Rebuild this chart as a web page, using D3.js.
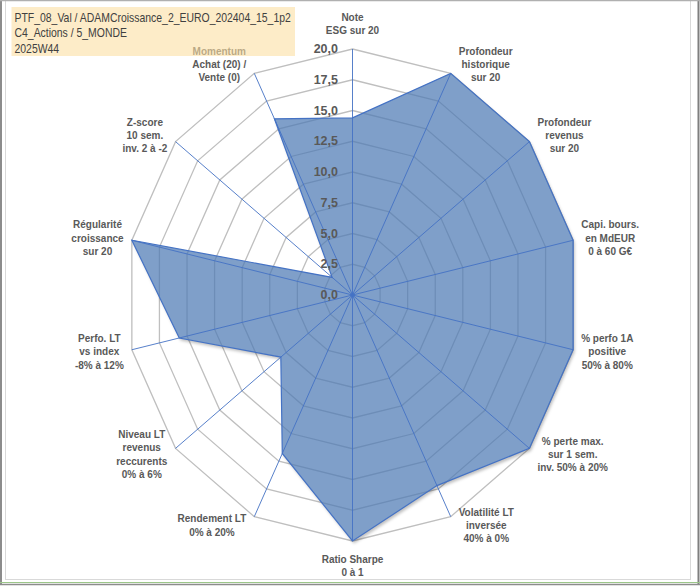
<!DOCTYPE html>
<html>
<head>
<meta charset="utf-8">
<script src="https://cdn.jsdelivr.net/npm/d3@7"></script>
<style>
  body { margin: 0; background: #fff; }
  svg { display: block; font-family: "Liberation Sans", Arial, sans-serif; }
</style>
</head>
<body>
<div id="chart"></div>
<script>
// Chart data
const categories = [
    ["Note", "ESG sur 20"],
    ["Profondeur", "historique", "sur 20"],
    ["Profondeur", "revenus", "sur 20"],
    ["Capi. bours.", "en MdEUR", "0 à 60 G€"],
    ["% perfo 1A", "positive", "50% à 80%"],
    ["% perte max.", "sur 1 sem.", "inv. 50% à 20%"],
    ["Volatilité LT", "inversée", "40% à 0%"],
    ["Ratio Sharpe", "0 à 1"],
    ["Rendement LT", "0% à 20%"],
    ["Niveau LT", "revenus", "reccurents", "0% à 6%"],
    ["Perfo. LT", "vs index", "-8% à 12%"],
    ["Régularité", "croissance", "sur 20"],
    ["Z-score", "10 sem.", "inv. 2 à -2"],
    ["Momentum", "Achat (20) /", "Vente (0)"]
];
const values = [14.4, 20, 20, 20, 20, 20, 17.2, 20, 14.3, 8.1, 15.7, 20, 2.3, 15.9];
const tickValues = [0, 2.5, 5, 7.5, 10, 12.5, 15, 17.5, 20];
const titleLines = [
    "PTF_08_Val / ADAMCroissance_2_EURO_202404_15_1p2",
    "C4_Actions / 5_MONDE",
    "2025W44"
];

const width = 700, height = 586;
const cx = 352.5, cy = 295;
const xSquash = 0.92;   // the plot is a bit narrower than tall
const n = categories.length;

const rScale = d3.scaleLinear().domain([0, 20]).range([0, 246]);
const angle = d3.scaleLinear().domain([0, n]).range([0, 2 * Math.PI]);

function pt(i, v) {
    const a = angle(i), r = rScale(v);
    return [cx + Math.sin(a) * r * xSquash, cy - Math.cos(a) * r];
}

const svg = d3.select('#chart').append('svg')
    .attr('width', width)
    .attr('height', height);

const line = d3.line().curve(d3.curveLinearClosed);
const areaPath = line(values.map((v, i) => pt(i, v)));

// shadow only outside the area, so the fill stays light
const defs = svg.append('defs');
defs.append('filter').attr('id', 'blur')
    .attr('x', '-10%').attr('y', '-10%').attr('width', '120%').attr('height', '120%')
    .append('feGaussianBlur').attr('stdDeviation', 1.8);
const mask = defs.append('mask').attr('id', 'outside');
mask.append('rect').attr('width', width).attr('height', height).attr('fill', '#fff');
mask.append('path').attr('d', areaPath).attr('fill', '#000');

// frame
svg.append('rect')
    .attr('x', 5.5).attr('y', -1).attr('width', 685).attr('height', 580.5)
    .attr('fill', 'none').attr('stroke', '#d9d9d9');
svg.append('line').attr('x1', 1).attr('x2', 1).attr('y1', 0).attr('y2', 585)
    .attr('stroke', '#8c8c8c').attr('stroke-width', 2);
svg.append('line').attr('x1', 698.5).attr('x2', 698.5).attr('y1', 0).attr('y2', 585)
    .attr('stroke', '#7f7f7f').attr('stroke-width', 2);
svg.append('line').attr('x1', 0).attr('x2', 700).attr('y1', 0.5).attr('y2', 0.5)
    .attr('stroke', '#b0b0b0').attr('stroke-width', 1.5);
svg.append('line').attr('x1', 0).attr('x2', 700).attr('y1', 582.5).attr('y2', 582.5)
    .attr('stroke', '#9cc78a').attr('stroke-width', 1);
svg.append('line').attr('x1', 0).attr('x2', 700).attr('y1', 584.5).attr('y2', 584.5)
    .attr('stroke', '#8c8c8c').attr('stroke-width', 1.5);

// grid rings
svg.append('g').attr('class', 'grid')
    .selectAll('path')
    .data(tickValues.filter(d => d > 0))
    .join('path')
    .attr('d', v => line(d3.range(n).map(i => pt(i, v))))
    .attr('fill', 'none')
    .attr('stroke', '#bfbfbf')
    .attr('stroke-width', 1.3);

// area shadow
svg.append('g').attr('mask', 'url(#outside)')
    .append('path')
    .attr('d', areaPath)
    .attr('transform', 'translate(1.5,2.5)')
    .attr('fill', '#000')
    .attr('fill-opacity', 0.25)
    .attr('filter', 'url(#blur)');

// data area
svg.append('path')
    .datum(values)
    .attr('d', areaPath)
    .attr('fill', 'rgb(78,122,180)')
    .attr('fill-opacity', 0.72)
    .attr('stroke', '#4472c4')
    .attr('stroke-width', 1.2);

// spokes
svg.append('g').attr('class', 'spokes')
    .selectAll('line')
    .data(d3.range(n))
    .join('line')
    .attr('x1', cx).attr('y1', cy)
    .attr('x2', i => pt(i, 20)[0])
    .attr('y2', i => pt(i, 20)[1])
    .attr('stroke', '#4472c4')
    .attr('stroke-width', 0.9);
svg.append('circle').attr('cx', cx).attr('cy', cy).attr('r', 2).attr('fill', '#4472c4');

// tick labels along the top spoke
const fmt = d => d3.format('.1f')(d).replace('.', ',');
svg.append('g').attr('class', 'ticks')
    .selectAll('text')
    .data(tickValues)
    .join('text')
    .attr('x', cx - 14.5)
    .attr('y', v => pt(0, v)[1])
    .attr('text-anchor', 'end')
    .attr('dominant-baseline', 'central')
    .attr('font-size', 12.5)
    .attr('font-weight', 'bold')
    .attr('fill', '#595959')
    .text(fmt);

// category labels
const lh = 13.3;
const labels = svg.append('g').attr('class', 'labels')
    .selectAll('text')
    .data(categories)
    .join('text')
    .attr('text-anchor', 'middle')
    .attr('font-size', 10)
    .attr('font-weight', 'bold')
    .attr('fill', '#595959');

labels.each(function (lines, i) {
    const t = d3.select(this);
    lines.forEach(s => t.append('tspan').attr('x', 0).text(s));
    const w = this.getBBox().width;
    const a = angle(i), s = Math.sin(a), c = Math.cos(a);
    const [ox, oy] = pt(i, 20);
    let lx, ly;
    if (Math.abs(s) < 0.1) {
        lx = ox;
        ly = oy - c * (lines.length * lh / 2 + 12);
    } else {
        lx = ox + Math.sign(s) * (w / 2 + 8);
        ly = oy - c * 10;
    }
    const y0 = ly - (lines.length - 1) * lh / 2;
    t.selectAll('tspan')
        .attr('x', lx)
        .attr('y', (d, k) => y0 + k * lh)
        .attr('dominant-baseline', 'central');
});

// title box (semi transparent, lies over the Momentum label)
svg.append('rect')
    .attr('x', 11.5).attr('y', 7).attr('width', 283.5).attr('height', 49)
    .attr('fill', '#fcdfa3').attr('fill-opacity', 0.6);

svg.append('g')
    .attr('transform', 'translate(14.5,0) scale(0.87,1)')
    .selectAll('text')
    .data(titleLines)
    .join('text')
    .attr('x', 0)
    .attr('y', (d, k) => 17.5 + k * 15.5)
    .attr('dominant-baseline', 'central')
    .attr('font-size', 12)
    .attr('fill', '#404040')
    .text(d => d);
</script>
</body>
</html>
